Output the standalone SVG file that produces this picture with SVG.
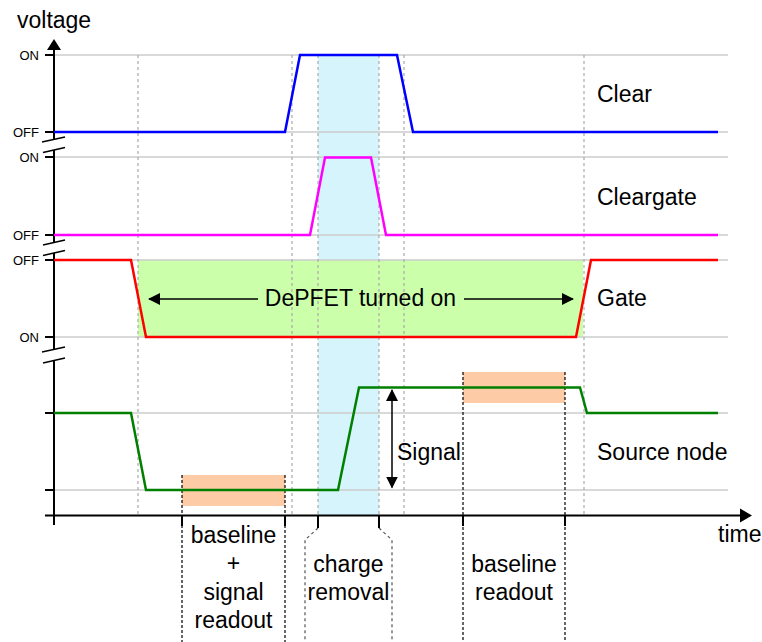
<svg xmlns="http://www.w3.org/2000/svg" width="762" height="642" viewBox="0 0 762 642">
<style>
text{font-family:"Liberation Sans",Arial,sans-serif;fill:#000}
.big{font-size:23px}
.tk{font-size:13px;text-anchor:end}
.mid{text-anchor:middle}
.grid{stroke:#cccccc;stroke-width:1.5;fill:none}
.vdash{stroke:#aaaaaa;stroke-width:1.2;stroke-dasharray:3,3;fill:none}
.bdash{stroke:#000;stroke-width:1.2;stroke-dasharray:3,2;fill:none}
.cdash{stroke:#555;stroke-width:1.2;stroke-dasharray:3,3;fill:none}
.ax{stroke:#000;stroke-width:2;fill:none}
.thin{stroke:#000;stroke-width:1.5;fill:none}
.sig{stroke-width:2.5;fill:none;stroke-linejoin:miter}
</style>
<defs>
<marker id="ah" viewBox="0 0 12 12" refX="11" refY="6" markerWidth="12" markerHeight="12" markerUnits="userSpaceOnUse" orient="auto-start-reverse">
<path d="M0,0 L12,6 L0,12 Z" fill="#000"/>
</marker>
</defs>

<g id="backgrounds">
<rect id="charge-band" x="318" y="55" width="61" height="460" fill="#d5f4fc"/>
<rect id="depfet-on-area" x="138" y="260" width="445" height="77" fill="#ccffaa"/>
</g>

<g id="grid">
<line class="grid" x1="54" y1="55" x2="728" y2="55"/>
<line class="grid" x1="54" y1="132" x2="728" y2="132"/>
<line class="grid" x1="54" y1="157" x2="728" y2="157"/>
<line class="grid" x1="54" y1="235" x2="728" y2="235"/>
<line class="grid" x1="54" y1="260" x2="728" y2="260"/>
<line class="grid" x1="54" y1="337" x2="728" y2="337"/>
<line class="grid" x1="54" y1="413" x2="728" y2="413"/>
<line class="grid" x1="54" y1="490" x2="728" y2="490"/>
<line class="vdash" x1="138" y1="55" x2="138" y2="515"/>
<line class="vdash" x1="292" y1="55" x2="292" y2="515"/>
<line class="vdash" x1="318" y1="55" x2="318" y2="515"/>
<line class="vdash" x1="379" y1="55" x2="379" y2="515"/>
<line class="vdash" x1="404" y1="55" x2="404" y2="515"/>
<line class="vdash" x1="584" y1="55" x2="584" y2="515"/>
</g>

<g id="readout-windows">
<rect x="182" y="475" width="103" height="31" fill="#fdcba6"/>
<rect x="463" y="372" width="102" height="31" fill="#fdcba6"/>
<line class="bdash" x1="182" y1="475" x2="182" y2="642"/>
<line class="bdash" x1="285" y1="475" x2="285" y2="642"/>
<line class="bdash" x1="463" y1="372" x2="463" y2="642"/>
<line class="bdash" x1="565" y1="372" x2="565" y2="642"/>
<polyline class="cdash" points="318,528 305,540 305,642"/>
<polyline class="cdash" points="379,528 392,540 392,642"/>
</g>

<g id="axes">
<line class="ax" x1="54" y1="50" x2="54" y2="139.5"/>
<line class="ax" x1="54" y1="150" x2="54" y2="242.5"/>
<line class="ax" x1="54" y1="253" x2="54" y2="349.5"/>
<line class="ax" x1="54" y1="360.5" x2="54" y2="525"/>
<path d="M47,50 L54,39 L61,50 Z" fill="#000"/>
<line class="ax" x1="45" y1="515.5" x2="741" y2="515.5"/>
<path d="M740,508.5 L752,515.5 L740,522.5 Z" fill="#000"/>
<g class="breaks">
<line class="thin" x1="42" y1="142" x2="65" y2="137"/>
<line class="thin" x1="43" y1="152.5" x2="65" y2="147.5"/>
<line class="thin" x1="43" y1="245" x2="65" y2="240"/>
<line class="thin" x1="43" y1="255.5" x2="65" y2="250.5"/>
<line class="thin" x1="42" y1="352" x2="65" y2="347"/>
<line class="thin" x1="43" y1="363" x2="65" y2="358"/>
</g>
<g class="yticks">
<line class="ax" x1="45" y1="55" x2="54" y2="55"/>
<line class="ax" x1="45" y1="132" x2="54" y2="132"/>
<line class="ax" x1="45" y1="157" x2="54" y2="157"/>
<line class="ax" x1="45" y1="235" x2="54" y2="235"/>
<line class="ax" x1="45" y1="260" x2="54" y2="260"/>
<line class="ax" x1="45" y1="337" x2="54" y2="337"/>
<line class="ax" x1="45" y1="413" x2="54" y2="413"/>
<line class="ax" x1="45" y1="490" x2="54" y2="490"/>
</g>
<g class="xticks">
<line class="ax" x1="182" y1="515" x2="182" y2="526"/>
<line class="ax" x1="285" y1="515" x2="285" y2="526"/>
<line class="ax" x1="318" y1="515" x2="318" y2="528"/>
<line class="ax" x1="379" y1="515" x2="379" y2="528"/>
<line class="ax" x1="463" y1="515" x2="463" y2="526"/>
<line class="ax" x1="565" y1="515" x2="565" y2="526"/>
</g>
<text class="big" x="17" y="28">voltage</text>
<text class="big" x="718" y="542">time</text>
<text class="tk" x="39" y="60">ON</text>
<text class="tk" x="39" y="137">OFF</text>
<text class="tk" x="39" y="162">ON</text>
<text class="tk" x="39" y="240">OFF</text>
<text class="tk" x="39" y="265">OFF</text>
<text class="tk" x="39" y="342">ON</text>
</g>

<g id="clear">
<polyline class="sig" stroke="#0000ff" points="54,132 285,132 300,55 397,55 413,132 718,132"/>
<text class="big" x="597" y="102">Clear</text>
</g>

<g id="cleargate">
<polyline class="sig" stroke="#ff00ff" points="54,235 310,235 325,157.5 371,157.5 386,235 718,235"/>
<text class="big" x="597" y="205">Cleargate</text>
</g>

<g id="gate">
<polyline class="sig" stroke="#ff0000" points="54,260 131,260 146,337 576,337 591,260 718,260"/>
<text class="big" x="597" y="306">Gate</text>
</g>

<g id="source-node">
<polyline class="sig" stroke="#008000" points="54,413 131,413 146,490 338,490 359,387.5 580,387.5 587,413 718,413"/>
<text class="big" x="597" y="460">Source node</text>
</g>

<g id="connectors">
<line class="thin" x1="149" y1="299" x2="258" y2="299" marker-start="url(#ah)"/>
<line class="thin" x1="464" y1="299" x2="573" y2="299" marker-end="url(#ah)"/>
<line class="thin" x1="392" y1="390" x2="392" y2="487.5" marker-start="url(#ah)" marker-end="url(#ah)"/>
</g>

<g id="labels">
<text class="big mid" x="360.5" y="306">DePFET turned on</text>
<text class="big" x="397" y="460">Signal</text>
<text class="big mid" x="233.5" y="543">baseline</text>
<text class="big mid" x="233.5" y="571">+</text>
<text class="big mid" x="233.5" y="600">signal</text>
<text class="big mid" x="233.5" y="628">readout</text>
<text class="big mid" x="348.5" y="572">charge</text>
<text class="big mid" x="348.5" y="600">removal</text>
<text class="big mid" x="514" y="572">baseline</text>
<text class="big mid" x="514" y="600">readout</text>
</g>
</svg>
